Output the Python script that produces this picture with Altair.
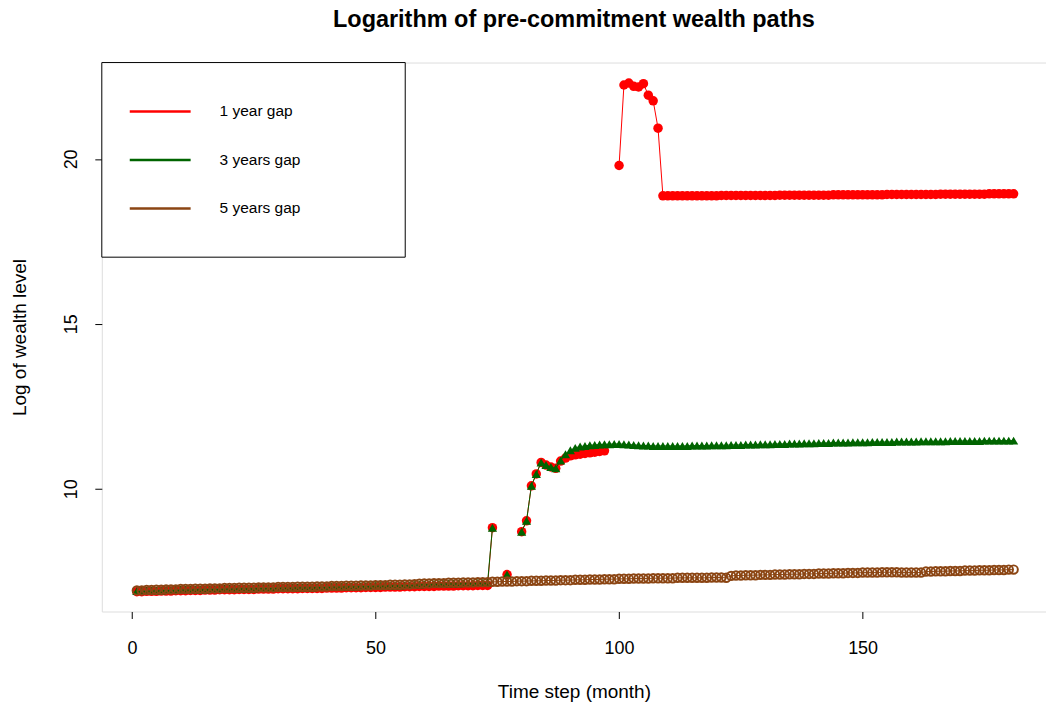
import altair as alt
import pandas as pd

nan = float("nan")

# Monthly time steps
months = list(range(1, 182))

# Log wealth, 1 year gap (missing months are nan)
gap1_values = [
    6.88, 6.88, 6.89, 6.89, 6.89, 6.90, 6.90, 6.90, 6.91, 6.91,
    6.91, 6.92, 6.92, 6.92, 6.93, 6.93, 6.93, 6.94, 6.94, 6.94,
    6.94, 6.95, 6.95, 6.95, 6.95, 6.96, 6.96, 6.96, 6.96, 6.97,
    6.97, 6.97, 6.97, 6.97, 6.98, 6.98, 6.98, 6.98, 6.98, 6.99,
    6.99, 6.99, 6.99, 7.00, 7.00, 7.00, 7.00, 7.01, 7.01, 7.01,
    7.01, 7.02, 7.02, 7.02, 7.02, 7.03, 7.03, 7.03, 7.04, 7.04,
    7.04, 7.04, 7.05, 7.05, 7.05, 7.05, 7.06, 7.06, 7.06, 7.06,
    7.07, 7.07, 7.07,
    8.82, nan, nan, 7.40, nan, nan, 8.70, 9.03, 10.09, 10.45, 10.80,
    10.72, 10.66, 10.62, 10.84, 10.93, 11.00,
    11.03, 11.05, 11.07, 11.09, 11.11, 11.13, 11.15,
    nan, nan,
    19.80, 22.24, 22.30, 22.20, 22.18, 22.28, 21.93, 21.76, 20.93,
    18.88, 18.88,
    18.88, 18.88, 18.88, 18.88, 18.88, 18.88, 18.88, 18.88, 18.88, 18.88,
    18.89, 18.89, 18.89, 18.89, 18.89, 18.89, 18.89, 18.89, 18.89, 18.89,
    18.89, 18.89, 18.90, 18.90, 18.90, 18.90, 18.90, 18.90, 18.90, 18.90,
    18.90, 18.90, 18.90, 18.91, 18.91, 18.91, 18.91, 18.91, 18.91, 18.91,
    18.91, 18.91, 18.91, 18.91, 18.92, 18.92, 18.92, 18.92, 18.92, 18.92,
    18.92, 18.92, 18.92, 18.92, 18.92, 18.93, 18.93, 18.93, 18.93, 18.93,
    18.93, 18.93, 18.93, 18.93, 18.93, 18.94, 18.94, 18.94, 18.94, 18.94, 18.94,
]

# Log wealth, 3 years gap
gap3_values = [
    6.90, 6.90, 6.91, 6.91, 6.92, 6.92, 6.93, 6.93, 6.93, 6.94,
    6.94, 6.94, 6.95, 6.95, 6.95, 6.96, 6.96, 6.96, 6.97, 6.97,
    6.97, 6.98, 6.98, 6.98, 6.98, 6.99, 6.99, 6.99, 6.99, 7.00,
    7.00, 7.00, 7.00, 7.01, 7.01, 7.01, 7.01, 7.02, 7.02, 7.02,
    7.03, 7.03, 7.03, 7.04, 7.04, 7.04, 7.05, 7.05, 7.05, 7.06,
    7.06, 7.06, 7.07, 7.07, 7.07, 7.08, 7.08, 7.09, 7.10, 7.11,
    7.11, 7.12, 7.12, 7.12, 7.13, 7.13, 7.13, 7.14, 7.14, 7.14,
    7.15, 7.15, 7.15,
    8.82, nan, nan, 7.40, nan, nan, 8.70, 9.03, 10.09, 10.45, 10.80,
    10.72, 10.66, 10.62, 10.86, 11.05, 11.17,
    11.24, 11.28, 11.30, 11.32, 11.33, 11.34, 11.35, 11.35, 11.36, 11.36,
    11.35, 11.34, 11.33, 11.32, 11.31, 11.31, 11.30, 11.30, 11.30, 11.30,
    11.30, 11.30, 11.30, 11.30, 11.31, 11.31, 11.31, 11.31, 11.32, 11.32,
    11.32, 11.32, 11.33, 11.33, 11.33, 11.34, 11.34, 11.34, 11.35, 11.35,
    11.35, 11.36, 11.36, 11.36, 11.37, 11.37, 11.37, 11.38, 11.38, 11.38,
    11.39, 11.39, 11.39, 11.40, 11.40, 11.40, 11.40, 11.41, 11.41, 11.41,
    11.41, 11.42, 11.42, 11.42, 11.42, 11.42, 11.43, 11.43, 11.43, 11.43,
    11.43, 11.44, 11.44, 11.44, 11.44, 11.44, 11.44, 11.45, 11.45, 11.45,
    11.45, 11.45, 11.45, 11.45, 11.46, 11.46, 11.46, 11.46, 11.46, 11.46, 11.46,
]

# Log wealth, 5 years gap
gap5_values = [
    6.92, 6.92, 6.93, 6.93, 6.94, 6.94, 6.95, 6.95, 6.95, 6.96,
    6.96, 6.96, 6.97, 6.97, 6.97, 6.98, 6.98, 6.98, 6.99, 6.99,
    6.99, 7.00, 7.00, 7.00, 7.00, 7.01, 7.01, 7.01, 7.01, 7.02,
    7.02, 7.02, 7.02, 7.03, 7.03, 7.03, 7.03, 7.04, 7.04, 7.04,
    7.05, 7.05, 7.05, 7.06, 7.06, 7.06, 7.07, 7.07, 7.07, 7.08,
    7.08, 7.08, 7.09, 7.09, 7.09, 7.10, 7.10, 7.11, 7.12, 7.13,
    7.13, 7.14, 7.14, 7.14, 7.15, 7.15, 7.15, 7.16, 7.16, 7.16,
    7.17, 7.17, 7.17, 7.18, 7.18, 7.19, 7.19, 7.19, 7.20, 7.20,
    7.20, 7.21, 7.21, 7.21, 7.22, 7.22, 7.22, 7.23, 7.23, 7.23,
    7.24, 7.24, 7.24, 7.25, 7.25, 7.25, 7.26, 7.26, 7.26, 7.27,
    7.27, 7.27, 7.28, 7.28, 7.28, 7.28, 7.29, 7.29, 7.29, 7.29,
    7.29, 7.30, 7.30, 7.30, 7.30, 7.30, 7.30, 7.30, 7.31, 7.31,
    7.31, 7.30, 7.36, 7.37, 7.37, 7.38, 7.38, 7.38, 7.39, 7.39,
    7.39, 7.40, 7.40, 7.40, 7.41, 7.41, 7.41, 7.42, 7.42, 7.42,
    7.43, 7.43, 7.43, 7.44, 7.44, 7.44, 7.45, 7.45, 7.45, 7.46,
    7.46, 7.46, 7.46, 7.47, 7.47, 7.47, 7.47, 7.46, 7.46, 7.46,
    7.46, 7.46, 7.49, 7.49, 7.50, 7.50, 7.50, 7.51, 7.51, 7.51,
    7.52, 7.52, 7.52, 7.53, 7.53, 7.53, 7.54, 7.54, 7.54, 7.55, 7.55,
]

series_names = ["1 year gap", "3 years gap", "5 years gap"]
series_colors = ["#FF0000", "#006400", "#8B4513"]
x_ticks = [0, 50, 100, 150]
y_ticks = [10, 15, 20]

assert len(gap1_values) == len(gap3_values) == len(gap5_values) == len(months)

FONT = "Liberation Sans"


def path_frame(values):
    """Months with their values; a new segment starts after every missing month."""
    df = pd.DataFrame({"month": months, "value": values})
    df["segment"] = df["value"].isna().cumsum()
    return df.dropna()


x_enc = alt.X(
    "month:Q",
    scale=alt.Scale(domain=[-6.2, 187.65], nice=False, zero=False),
    axis=alt.Axis(
        values=x_ticks, title="Time step (month)", grid=False, domain=False,
        tickSize=7, tickColor="black", labelFontSize=18, labelColor="black",
        labelFont=FONT, labelPadding=21, titleFontSize=19, titleFont=FONT,
        titleFontWeight="normal", titleColor="black", titleY=80,
        titleBaseline="middle", labelFlush=False,
    ),
)
y_enc = alt.Y(
    "value:Q",
    scale=alt.Scale(domain=[6.28, 22.92], nice=False, zero=False),
    axis=alt.Axis(
        values=y_ticks, title="Log of wealth level", grid=False, domain=False,
        tickSize=7, tickColor="black", labelFontSize=18, labelColor="black",
        labelFont=FONT, labelAngle=270, labelAlign="center",
        labelBaseline="bottom", labelPadding=14, titleFontSize=19,
        titleFont=FONT, titleFontWeight="normal", titleColor="black",
        titleAngle=270, titleX=-82, titleY=275, titleAlign="center",
        titleBaseline="middle", labelFlush=False,
    ),
)

layers = []
shapes = [
    dict(shape="circle", filled=True, size=90),
    dict(shape="triangle-up", filled=True, size=85),
    dict(shape="circle", filled=False, size=72, strokeWidth=2),
]
for values, color, shape in zip([gap1_values, gap3_values, gap5_values],
                                series_colors, shapes):
    base = alt.Chart(path_frame(values))
    layers.append(
        base.mark_line(color=color, strokeWidth=1).encode(
            x=x_enc, y=y_enc, detail="segment:N"
        )
    )
    layers.append(
        base.mark_point(color=color, opacity=1, **shape).encode(x=x_enc, y=y_enc)
    )

# Legend box in the top-left corner of the plot
layers.append(
    alt.Chart().mark_rect(fill="white", stroke="black", strokeWidth=1).encode(
        x=alt.value(0), x2=alt.value(304), y=alt.value(0), y2=alt.value(195)
    )
)
for i, (name, color) in enumerate(zip(series_names, series_colors)):
    row_y = 49 + 48.6 * i
    layers.append(
        alt.Chart().mark_rule(color=color, strokeWidth=2.5).encode(
            x=alt.value(28), x2=alt.value(89), y=alt.value(row_y)
        )
    )
    layers.append(
        alt.Chart().mark_text(
            align="left", baseline="middle", fontSize=15.5, font=FONT,
            color="black"
        ).encode(x=alt.value(118), y=alt.value(row_y), text=alt.value(name))
    )

chart = (
    alt.layer(*layers)
    .properties(
        width=946,
        height=550,
        title=alt.TitleParams(
            "Logarithm of pre-commitment wealth paths",
            fontSize=23.5, font=FONT, fontWeight="bold", color="black",
            anchor="middle", offset=31,
        ),
        autosize=alt.AutoSizeParams(type="none"),
        padding={"left": 102, "top": 62, "right": 0, "bottom": 95},
    )
    .configure_view(stroke="black", strokeWidth=1)
    .configure(background="white")
)

chart.save("out.html", embed_options={"renderer": "svg", "actions": False})
